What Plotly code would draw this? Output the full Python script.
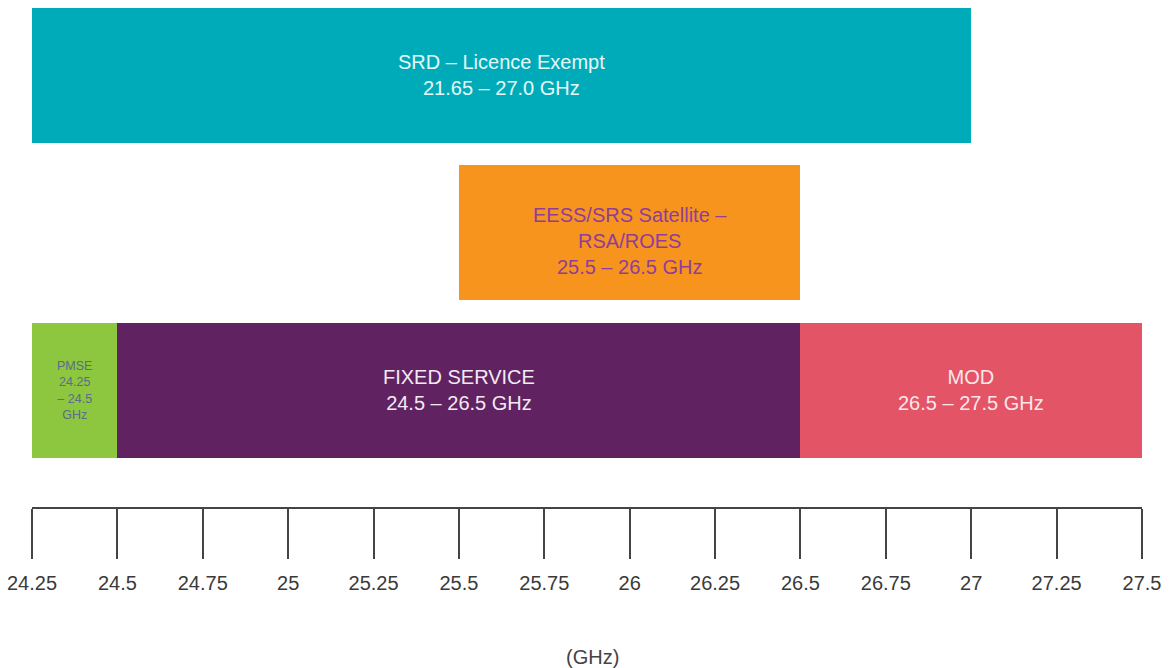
import plotly.graph_objects as go

# Frequency allocations (GHz)
bands = ["SRD", "EESS", "PMSE", "FIXED", "MOD"]
band_start = [21.65, 25.5, 24.25, 24.5, 26.5]
band_end = [27.0, 26.5, 24.5, 26.5, 27.5]
band_row = [2, 1, 0, 0, 0]
band_color = ["#00abb9", "#f7941e", "#8dc63f", "#612262", "#e35466"]
band_label = [
    "SRD – Licence Exempt<br>21.65 – 27.0 GHz",
    "EESS/SRS Satellite –<br>RSA/ROES<br>25.5 – 26.5 GHz",
    "PMSE<br>24.25<br>– 24.5<br>GHz",
    "FIXED SERVICE<br>24.5 – 26.5 GHz",
    "MOD<br>26.5 – 27.5 GHz",
]
label_color = ["#e6f7f8", "#8f3d9c", "#5b6b8c", "#f2eaf2", "#fbe6e8"]
label_size = [20, 20, 12.5, 20, 20]
label_shift = [0, -8, 0, 0, 0]

tick_vals = [24.25, 24.5, 24.75, 25, 25.25, 25.5, 25.75, 26, 26.25, 26.5, 26.75, 27, 27.25, 27.5]
tick_text = ["24.25", "24.5", "24.75", "25", "25.25", "25.5", "25.75", "26", "26.25",
             "26.5", "26.75", "27", "27.25", "27.5"]

FONT = "Arial, Liberation Sans, sans-serif"

fig = go.Figure()
fig.add_trace(go.Bar(
    y=band_row,
    x=[e - s for s, e in zip(band_start, band_end)],
    base=band_start,
    orientation="h",
    marker=dict(color=band_color, line=dict(width=0)),
    width=0.857,
    hoverinfo="skip",
    showlegend=False,
))

for s, e, r, txt, c, fs, sh in zip(band_start, band_end, band_row, band_label,
                                    label_color, label_size, label_shift):
    xc = (max(s, tick_vals[0]) + e) / 2
    fig.add_annotation(x=xc, y=r, text=txt, showarrow=False, yshift=sh,
                       font=dict(family=FONT, size=fs, color=c))

fig.add_annotation(xref="paper", yref="paper", x=(593 - 32) / 1110, y=-0.30,
                   text="(GHz)", showarrow=False, yanchor="middle",
                   font=dict(family=FONT, size=20, color="#444444"))

fig.update_layout(
    width=1172, height=668,
    margin=dict(l=32, r=30, t=8, b=161),
    paper_bgcolor="white", plot_bgcolor="white",
    bargap=0,
    xaxis=dict(
        range=[tick_vals[0], tick_vals[-1]],
        tickmode="array", tickvals=tick_vals, ticktext=tick_text,
        ticks="outside", ticklen=50, tickwidth=1.8, tickcolor="#444444",
        showline=True, linecolor="#444444", linewidth=1.8,
        showgrid=False, zeroline=False,
        tickfont=dict(family=FONT, size=20, color="#3a3a3a"),
        ticklabelstandoff=7,
    ),
    yaxis=dict(range=[-0.743, 2.4286], visible=False, showgrid=False, zeroline=False),
)

fig.write_html("out.html")
